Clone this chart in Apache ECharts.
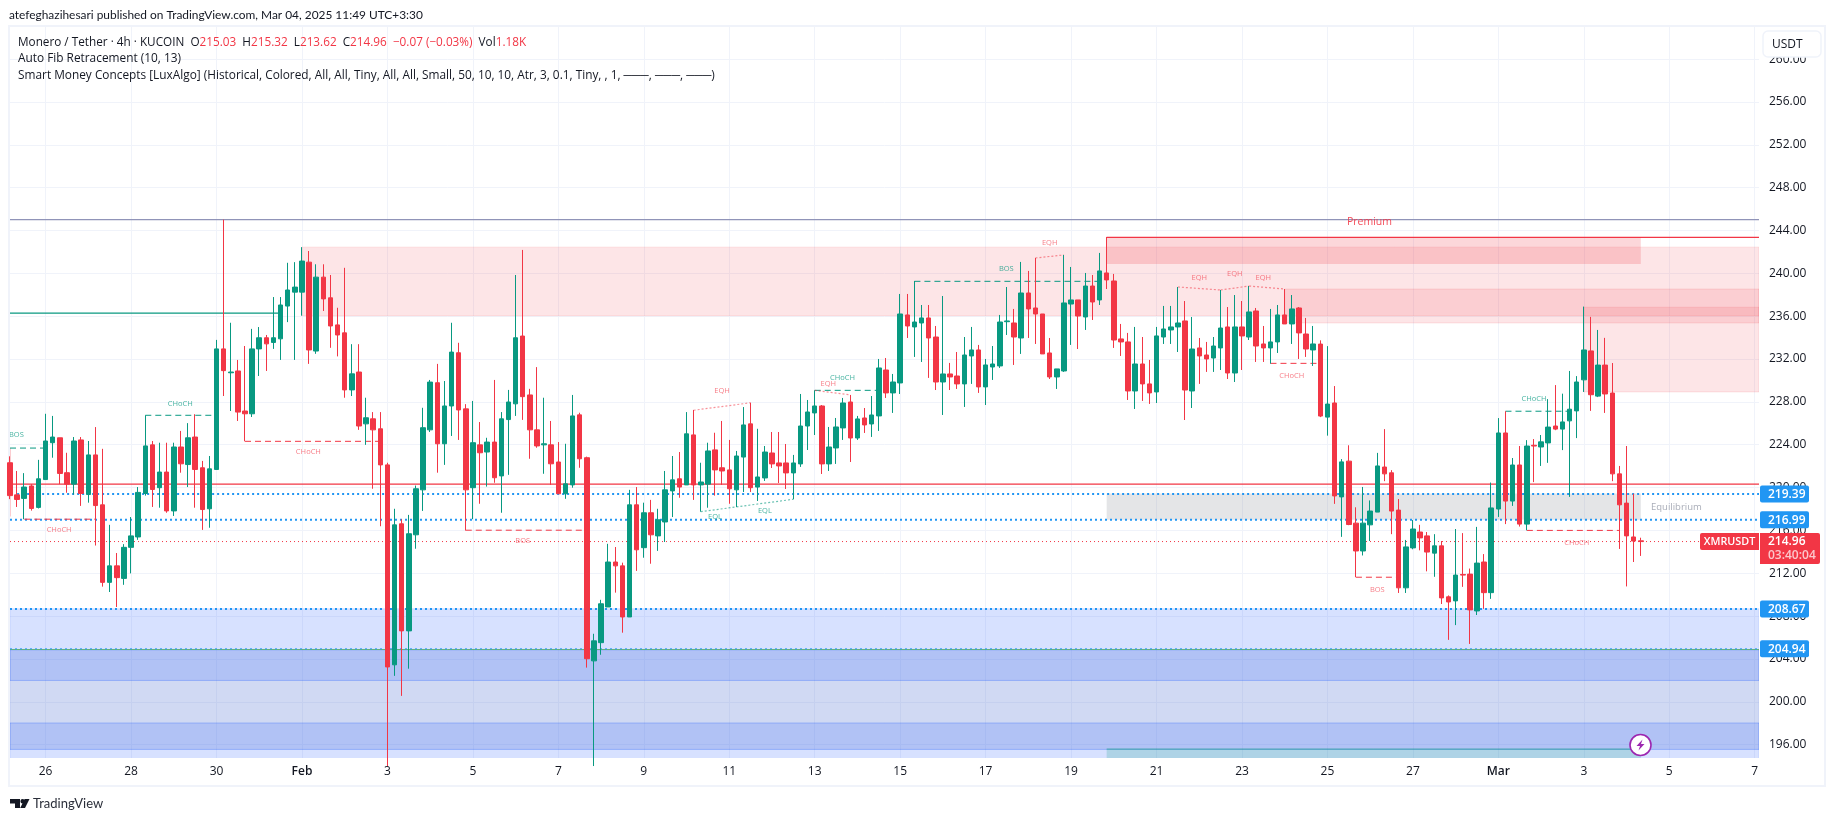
<!DOCTYPE html>
<html><head><meta charset="utf-8"><style>html,body{margin:0;padding:0;background:#fff}#c{width:1835px;height:821px}</style>
<script src="https://cdn.jsdelivr.net/npm/echarts@6/dist/echarts.min.js"></script></head><body><div id="c"></div><script>
const open=[222.32,219.32,218.99,220.15,218.15,220.75,224.19,224.65,221.39,220.32,
224.45,219.35,223.05,218.39,211.15,212.69,211.52,214.42,215.39,219.45,
223.99,219.99,221.45,217.82,223.79,222.15,224.72,221.85,218.02,221.69,
232.95,230.72,230.89,227.15,226.89,232.95,233.99,233.55,233.89,236.95,
238.25,238.25,241.05,232.75,239.65,237.72,235.19,234.45,229.12,230.79,
225.95,226.42,225.49,222.12,203.45,216.62,206.62,215.59,219.79,225.39,
229.79,224.09,227.62,232.59,227.35,219.99,223.99,223.32,224.25,221.09,
226.35,227.82,234.15,228.65,225.39,223.99,223.99,222.39,219.42,220.25,
226.79,222.79,203.82,205.52,208.85,213.05,212.69,207.92,218.39,214.39,
217.65,215.49,216.79,219.69,220.82,220.25,224.92,220.25,220.32,223.52,
221.85,221.65,219.79,222.85,225.95,220.05,220.90,223.23,222.30,222.30,
221.37,222.21,225.75,226.97,227.62,222.21,223.70,225.57,227.99,224.63,
226.50,225.94,226.69,230.98,228.84,229.77,236.12,235.00,235.37,235.84,
234.06,229.86,230.61,230.42,229.68,232.29,232.85,229.40,231.26,231.36,
235.49,235.37,233.97,238.17,236.77,236.21,232.57,230.33,230.89,237.14,
237.52,235.93,238.82,237.52,240.04,239.29,233.88,233.60,229.02,231.54,
229.68,228.93,234.06,234.72,235.00,235.56,229.02,233.04,232.38,232.10,
233.04,235.00,230.70,235.00,234.06,236.49,233.41,233.04,233.60,236.12,
235.28,236.77,234.34,232.85,233.40,226.58,227.90,219.13,222.47,216.68,
214.08,216.52,217.71,221.92,221.38,217.90,210.64,214.37,215.85,215.49,
213.88,214.56,209.80,209.42,211.89,211.92,208.48,213.05,210.19,218.00,
225.10,218.74,222.11,216.59,223.95,223.79,224.17,225.75,225.46,226.23,
227.16,230.06,232.76,228.54,231.44,228.83,221.28,218.55,215.39,215.03];
const close=[219.25,218.89,220.05,218.05,220.82,224.35,224.72,221.32,220.32,224.35,
219.45,223.05,218.32,211.15,212.69,211.59,214.42,215.49,219.55,223.89,
219.82,221.45,217.82,223.79,222.22,224.65,221.69,217.95,221.75,232.95,
230.92,230.79,227.05,226.89,232.95,233.99,233.42,233.99,237.05,238.45,
238.72,241.15,232.85,239.65,237.62,235.09,234.25,229.12,230.62,225.75,
226.52,225.39,222.12,203.25,216.52,206.62,215.69,219.89,225.59,229.85,
224.09,227.62,232.65,227.25,219.79,224.19,223.25,224.25,220.92,226.42,
227.99,233.99,228.49,225.39,223.89,224.09,222.22,219.42,220.35,226.69,
222.69,204.02,205.69,209.15,213.05,212.69,207.92,218.39,214.19,217.65,
215.59,216.99,219.79,220.72,220.05,225.02,220.25,220.52,223.42,221.65,
221.55,219.89,222.95,225.85,219.99,220.99,223.32,222.21,222.02,221.37,
222.30,225.75,227.06,227.62,222.21,223.79,225.66,227.90,224.63,226.41,
225.85,226.78,231.17,228.84,229.86,236.21,235.09,235.46,235.84,233.97,
229.86,230.61,230.33,229.68,232.38,232.85,229.40,231.45,231.54,235.46,
235.56,234.06,238.17,236.68,236.21,232.48,230.33,231.08,237.24,237.52,
236.02,238.82,237.33,240.23,239.39,233.78,233.60,229.02,231.54,229.68,
228.84,234.16,234.81,235.00,235.37,229.11,232.94,232.29,232.01,233.22,
234.90,230.70,235.00,234.16,236.40,233.22,233.04,233.60,236.12,235.28,
236.68,234.44,232.94,233.41,226.68,227.80,219.22,222.40,216.55,214.08,
216.68,217.81,222.02,221.28,217.81,210.64,214.46,216.13,215.30,213.98,
214.56,209.70,209.32,211.83,211.83,208.58,212.95,210.19,218.10,225.10,
218.74,222.11,216.59,223.88,223.88,224.27,225.65,225.46,226.13,227.32,
229.86,232.85,228.67,231.44,228.74,221.28,218.39,215.49,215.01,214.96];
const high=[222.92,221.55,221.35,220.32,222.59,226.89,226.69,224.65,223.25,224.72,
224.72,224.35,225.65,223.62,216.52,213.89,214.72,217.25,220.05,226.75,
224.35,224.19,224.19,224.19,225.29,226.02,226.85,222.49,222.95,233.79,
245.02,235.39,231.92,233.22,234.82,234.99,234.25,237.79,237.79,240.99,
241.05,242.45,242.09,240.85,240.85,239.85,236.79,240.52,233.39,233.39,
228.39,227.05,227.05,222.32,218.02,217.05,217.45,220.19,227.45,230.05,
231.55,229.95,235.39,233.52,227.79,228.09,226.12,224.65,230.05,227.05,
229.12,239.85,242.19,229.22,231.25,228.39,226.22,224.25,224.09,228.65,
226.99,222.89,206.35,209.52,214.75,214.45,212.99,219.79,220.05,218.59,
218.85,218.02,221.55,222.95,223.32,227.05,227.25,222.32,224.19,225.12,
226.22,224.45,223.42,227.52,227.92,225.49,223.88,225.19,225.19,224.07,
223.05,228.74,228.18,229.08,227.71,225.66,226.50,228.37,228.65,226.69,
227.43,228.55,232.01,232.10,230.61,238.08,238.08,239.29,237.05,237.05,
235.09,237.89,231.64,232.66,234.06,235.00,233.32,232.01,233.22,236.12,
238.73,236.68,241.07,240.23,241.44,236.21,233.97,231.08,241.72,240.60,
237.52,240.04,239.85,241.91,243.40,239.95,235.28,234.44,235.00,234.06,
231.92,235.00,236.96,236.96,238.73,237.42,235.93,233.97,233.60,234.06,
238.45,236.86,237.98,237.42,238.82,236.77,235.09,236.68,237.05,238.54,
237.98,236.86,235.84,235.09,233.75,233.21,229.48,222.66,223.95,218.16,
220.06,218.80,223.24,225.46,221.63,218.93,215.11,216.97,216.52,215.85,
215.65,215.01,209.93,216.13,215.75,212.44,216.33,213.79,220.47,226.49,
227.13,222.76,223.88,224.43,224.53,224.91,228.26,229.57,228.77,230.89,
230.41,236.90,235.94,234.72,233.98,231.63,222.02,223.88,219.42,215.32];
const low=[218.92,218.19,217.05,217.85,218.05,220.75,222.79,220.32,219.52,219.35,
218.29,218.59,214.59,210.75,210.25,208.85,210.92,211.99,215.12,219.25,
218.19,218.12,217.65,217.35,221.39,220.05,218.12,216.05,216.25,221.69,
228.55,227.15,226.22,224.32,226.59,230.42,230.89,232.95,231.92,235.45,
231.92,236.05,231.55,232.49,236.49,233.05,232.25,228.39,228.55,225.39,
223.99,219.89,216.39,194.0,202.42,200.55,203.09,214.29,217.82,225.19,
221.39,222.12,224.82,224.45,215.99,217.05,218.49,220.09,220.45,217.65,
221.19,226.69,226.32,222.69,223.72,221.29,220.25,219.42,218.95,219.99,
221.85,203.19,194.0,204.39,208.85,210.19,206.45,207.92,212.22,213.45,
212.89,214.09,214.92,217.25,219.05,220.25,218.85,217.75,218.12,219.25,
220.25,218.49,218.19,219.59,219.59,218.75,220.62,221.83,220.43,219.87,
218.91,221.93,223.51,224.91,221.27,221.55,222.21,224.45,222.39,224.45,
225.10,224.73,225.29,228.37,226.97,228.74,233.97,232.20,231.73,230.24,
229.11,226.78,229.11,229.21,227.53,229.68,228.84,227.71,230.05,231.17,
234.25,231.45,232.48,233.97,233.41,232.48,230.14,229.21,230.80,233.32,
232.94,234.72,235.65,237.05,238.54,233.04,232.29,228.18,227.34,228.09,
227.81,227.90,233.41,233.41,232.66,226.31,227.43,229.68,230.80,230.80,
230.98,230.14,229.86,230.98,233.78,231.73,231.73,231.57,232.57,235.28,
233.41,232.01,232.20,231.36,226.58,224.85,218.48,215.40,216.49,211.63,
213.66,215.01,217.71,220.60,215.65,210.16,210.16,214.24,214.14,212.18,
211.67,209.13,205.78,207.16,210.73,205.40,208.10,208.68,209.61,217.26,
216.59,218.29,216.36,216.01,220.51,222.02,222.31,225.36,223.50,219.13,
224.62,228.93,227.16,228.45,226.97,220.60,214.27,210.77,213.05,213.62];

// time axis: one slot per 4h bar; a tick every two days
const timeTickSlots=[5,17,29,41,53,65,77,89,101,113,125,137,149,161,173,185,197,209,221,233,245];
const timeTickLabels=['26','28','30','Feb','3','5','7','9','11','13','15','17','19','21','23','25','27','Mar','3','5','7'];
const priceTicks=[196,200,204,208,212,216,220,224,228,232,236,240,244,248,252,256,260];
const xMin=0,xMax=245.6,yMin=194.75,yMax=263.1;

const RED='#f23645',GREEN='#089981',BLUE='#2196f3';
// zones: [fromSlot,toSlot,top,bottom]
const premiumZones=[[41,xMax,242.45,236.05],[179,xMax,238.54,235.37],[221,xMax,236.84,228.93]];
const premiumBox=[[154,229,243.37,240.88]];
const equilibriumBox=[[154,229,219.45,216.99]];
const demandBase=[[0,xMax,208.69,194]];
const demandMid=[[0,xMax,204.85,195.55]];
const demandDark=[[0,xMax,204.85,201.99],[0,xMax,198.02,195.55]];
const discountBox=[[154,229,195.59,194]];
// horizontal levels
const purpleLevel=[[0,245.02,xMax,245.02]];
const redLevels=[[0,220.32,xMax,220.32],[154,243.37,xMax,243.37]];
const greenLevel=[[0,236.29,38,236.29]];
const blueDotted=[[1,219.39,xMax,219.39],[0,216.99,xMax,216.99],[0,208.67,xMax,208.67]];
const blueFine=[[0,204.94,xMax,204.94]];
const greenFine=[[0,204.88,xMax,204.88]];
const priceDotted=[[0,214.96,xMax,214.96]];
// market structure
const dashGreen=[[0,223.69,5,223.69],[19,226.75,29,226.75],[113,229.08,122,229.08],[127,239.26,153,239.26],[210,227.13,219,227.13]];
const dashRed=[[2,217.05,12,217.05],[33,224.32,52,224.32],[64,216.02,81,216.02],[177,231.6,184,231.6],[189,211.63,195,211.63],[213,216,226,216]];
const dotPink=[[96,227.22,104,227.92],[113,229.08,118,228.65],[144,241.44,148,241.72],[164,238.73,170,238.45],[170,238.45,174,238.82],[174,238.82,179,238.54]];
const dotGreen=[[97,217.75,110,218.91]];
const thinPink=[[0,223.69,0,217.3]];
const greenNotes=[['BOS',0.9,224.89],['CHoCH',23.9,227.85],['CHoCH',116.9,230.27],['BOS',139.9,240.44],['CHoCH',214,228.32],['EQL',99,217.22],['EQL',106,217.79]];
const redNotes=[['CHoCH',6.9,216.02],['CHoCH',41.9,223.29],['BOS',72,214.99],['EQH',100,228.99],['EQH',114.9,229.7],['EQH',146,242.81],['EQH',167,239.6],['EQH',172,240.0],['EQH',176,239.6],['CHoCH',180,230.45],['BOS',192,210.47],['CHoCH',220,214.88]];
const premiumNote=[['Premium',190.9,244.8]];
const equilibriumNote=[['Equilibrium',234,218.2]];
const levelTags=[219.39,216.99,208.67,204.94];
const lastPrice=214.96, symbolName='XMRUSDT', countdown='03:40:04';

const FONT='"Open Sans",sans-serif';
const LATO='Lato,sans-serif';
function zoneSeries(rows,fill,stroke,z){return {type:'custom',z:z||1,clip:true,silent:true,animation:false,
  data:rows,encode:{x:[0,1],y:[2,3]},
  renderItem(p,api){const a=api.coord([api.value(0),api.value(2)]),b=api.coord([api.value(1),api.value(3)]);
    return {type:'rect',shape:{x:a[0],y:a[1],width:b[0]-a[0],height:b[1]-a[1]},style:{fill,stroke:stroke||null,lineWidth:stroke?1:0}};}};}
function lineSeries(rows,color,width,dash,z){return {type:'custom',z:z||1,clip:true,silent:true,animation:false,
  data:rows,encode:{x:[0,2],y:[1,3]},
  renderItem(p,api){const a=api.coord([api.value(0),api.value(1)]),b=api.coord([api.value(2),api.value(3)]);
    return {type:'line',shape:{x1:a[0],y1:a[1],x2:b[0],y2:b[1]},style:{stroke:color,lineWidth:width,lineDash:dash||null,fill:null}};}};}
function noteSeries(rows,color,size,opacity){return {type:'custom',z:3,clip:true,silent:true,animation:false,
  data:rows.map(r=>[r[1],r[2]]),encode:{x:0,y:1},
  renderItem(p,api){const a=api.coord([api.value(0),api.value(1)]);
    return {type:'text',style:{x:a[0],y:a[1],text:rows[p.dataIndex][0],fill:color,opacity:opacity,font:size+'px '+FONT,align:'center',verticalAlign:'middle'}};}};}
function tagSeries(){return {type:'custom',z:9,clip:false,silent:true,animation:false,
  data:levelTags.map(v=>[xMax,v]),encode:{x:0,y:1},
  renderItem(p,api){const a=api.coord([api.value(0),api.value(1)]);
    return {type:'group',children:[
      {type:'rect',shape:{x:1760,y:a[1]-8.5,width:49,height:17,r:2},style:{fill:BLUE}},
      {type:'text',style:{x:1768,y:a[1]+0.5,text:api.value(1).toFixed(2),fill:'#fff',font:'600 12px '+FONT,verticalAlign:'middle'}}]};}};}
function lastTagSeries(){return {type:'custom',z:10,clip:false,silent:true,animation:false,
  data:[[xMax,lastPrice]],encode:{x:0,y:1},
  renderItem(p,api){const a=api.coord([api.value(0),api.value(1)]);
    return {type:'group',children:[
      {type:'rect',shape:{x:1700,y:a[1]-8.5,width:59,height:17,r:[2,0,0,2]},style:{fill:RED}},
      {type:'text',style:{x:1729.5,y:a[1]+0.5,text:symbolName,fill:'#fff',font:'600 10.8px '+FONT,align:'center',verticalAlign:'middle'}},
      {type:'rect',shape:{x:1760,y:a[1]-8.5,width:60,height:31,r:[0,2,2,0]},style:{fill:RED}},
      {type:'text',style:{x:1768,y:a[1]+0.5,text:lastPrice.toFixed(2),fill:'#fff',font:'600 12px '+FONT,verticalAlign:'middle'}},
      {type:'text',style:{x:1768,y:a[1]+14,text:countdown,fill:'rgba(255,255,255,0.72)',font:'600 12px '+FONT,verticalAlign:'middle'}}]};}};}

const candles=open.map((o,i)=>[i,o,close[i],low[i],high[i]]);
const chart=echarts.init(document.getElementById('c'),null,{renderer:'canvas'});
const txt=(x,y,text,extra)=>({type:'text',z:20,silent:true,style:Object.assign({x,y,text,font:'11.85px '+FONT,fill:'#131722',verticalAlign:'middle'},extra||{})});
chart.setOption({
  animation:false,backgroundColor:'#fff',
  grid:{left:10,top:26,width:1749,height:732,containLabel:false,show:false},
  xAxis:{type:'value',min:xMin,max:xMax,
    axisLine:{show:false},axisTick:{show:false,customValues:timeTickSlots},
    splitLine:{show:true,lineStyle:{color:'#f0f3fa',width:1}},
    axisLabel:{customValues:timeTickSlots,margin:8,fontFamily:'"Open Sans",sans-serif',fontSize:12,color:'#131722',
      hideOverlap:false,showMinLabel:true,showMaxLabel:true,
      formatter:v=>{const s=timeTickLabels[timeTickSlots.indexOf(v)];return s==='Feb'||s==='Mar'?'{b|'+s+'}':s;},
      rich:{b:{fontWeight:600,fontSize:12,color:'#131722',fontFamily:'"Open Sans",sans-serif'}}}},
  yAxis:{type:'value',position:'right',min:yMin,max:yMax,scale:true,
    axisLine:{show:false},axisTick:{show:false,customValues:priceTicks},
    splitLine:{show:true,lineStyle:{color:'#f0f3fa',width:1}},
    axisLabel:{customValues:priceTicks,margin:10,padding:[2,0,0,0],fontFamily:'"Open Sans",sans-serif',fontSize:12,color:'#131722',
      formatter:v=>v.toFixed(2),showMinLabel:true,showMaxLabel:true}},
  graphic:{elements:[
    {type:'rect',z:-1,silent:true,shape:{x:9,y:26,width:1816,height:760},style:{fill:null,stroke:'#f0f3fa',lineWidth:2}},
    txt(9,15.5,'atefeghazihesari published on TradingView.com, Mar 04, 2025 11:49 UTC+3:30',{font:'11.9px '+LATO}),
    {type:'text',z:20,silent:true,style:{x:18,y:42.5,verticalAlign:'middle',font:'11.75px '+FONT,fill:'#131722',
      text:'Monero / Tether · 4h · KUCOIN  O{r|215.03}  H{r|215.32}  L{r|213.62}  C{r|214.96}  {r|−0.07 (−0.03%)}  Vol{r|1.18K}',
      rich:{r:{fill:RED,font:'11.75px '+FONT}}}},
    txt(18,59,'Auto Fib Retracement (10, 13)'),
    txt(18,76,'Smart Money Concepts [LuxAlgo] (Historical, Colored, All, All, Tiny, All, All, Small, 50, 10, 10, Atr, 3, 0.1, Tiny, , 1, ───, ───, ───)'),
    {type:'rect',z:20,silent:true,shape:{x:1763,y:31,width:58,height:26,r:5},style:{fill:'#fff',stroke:'#f0f3fa',lineWidth:1.5}},
    txt(1772,44.5,'USDT',{font:'12px '+FONT}),
    {type:'polygon',z:20,silent:true,shape:{points:[[10,799],[20,799],[20,808],[15,808],[15,803.5],[10,803.5]]},style:{fill:'#131722'}},
    {type:'circle',z:20,silent:true,shape:{cx:22.6,cy:801.2,r:2.2},style:{fill:'#131722'}},
    {type:'polygon',z:20,silent:true,shape:{points:[[24.6,799],[29.5,799],[25,808],[20.2,808]]},style:{fill:'#131722'}},
    txt(33,803.5,'TradingView',{font:'13px '+LATO,fill:'#2a2e39'}),
    {type:'circle',z:20,silent:true,shape:{cx:1640.5,cy:745,r:10.5},style:{fill:'#fff',stroke:'#9c27b0',lineWidth:1.6}},
    {type:'polygon',z:21,silent:true,shape:{points:[[1642.5,739.5],[1636.5,746],[1640,746],[1638.5,750.5],[1644.5,744],[1641,744]]},style:{fill:'#9c27b0'}}
  ]},
  series:[
    zoneSeries(demandBase,'rgba(41,98,255,0.19)','rgba(41,98,255,0.12)'),
    zoneSeries(demandMid,'rgba(150,145,135,0.10)'),
    zoneSeries(demandDark,'rgba(41,98,255,0.19)','rgba(41,98,255,0.3)'),
    zoneSeries(discountBox,'rgba(8,153,129,0.20)'),
    lineSeries([[154,195.59,229,195.59]],'rgba(8,153,129,0.55)',1),
    zoneSeries(premiumZones,'rgba(242,54,69,0.13)','rgba(242,54,69,0.12)'),
    zoneSeries(premiumBox,'rgba(242,54,69,0.20)'),
    zoneSeries(equilibriumBox,'rgba(120,123,134,0.20)'),
    lineSeries(purpleLevel,'#9094b8',1.2),
    lineSeries(thinPink,'rgba(242,54,69,0.5)',1),
    lineSeries(redLevels,RED,1.3),
    lineSeries(greenLevel,GREEN,1.3),
    lineSeries(greenFine,'rgba(76,175,80,0.75)',1),
    lineSeries(blueDotted,BLUE,2,[2,3]),
    lineSeries(blueFine,BLUE,1,[2,3]),
    lineSeries(priceDotted,RED,1,[1,3]),
    lineSeries(dashGreen,GREEN,1,[6,4]),
    lineSeries(dashRed,RED,1,[6,4]),
    lineSeries(dotPink,'rgba(242,54,69,0.55)',1.2,[2,2]),
    lineSeries(dotGreen,'rgba(8,153,129,0.6)',1.2,[2,2]),
    {type:'candlestick',z:2,clip:true,barWidth:5,silent:true,animation:false,
      data:candles,encode:{x:0,y:[1,2,3,4]},
      itemStyle:{color:GREEN,color0:RED,borderColor:GREEN,borderColor0:RED,borderWidth:1}},
    noteSeries(greenNotes,GREEN,7.5,0.75),
    noteSeries(redNotes,RED,7.5,0.65),
    noteSeries(premiumNote,RED,10.5,0.9),
    noteSeries(equilibriumNote,'#a9adb8',9.5,1),
    tagSeries(),
    lastTagSeries()
  ]
});
</script></body></html>
